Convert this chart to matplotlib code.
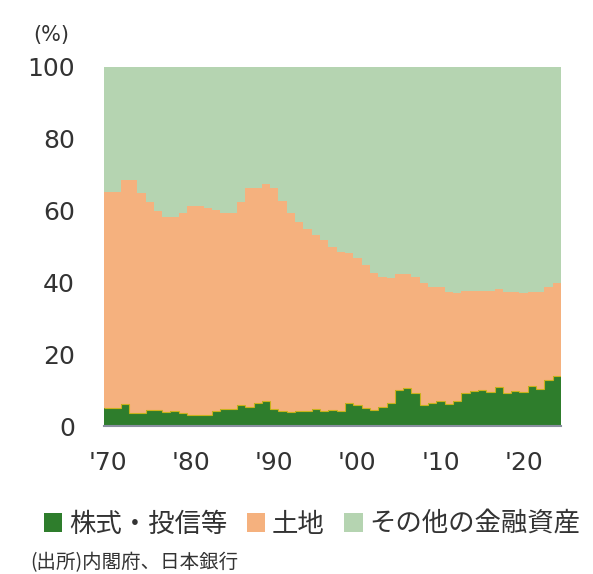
import numpy as np
import matplotlib
matplotlib.use("Agg")
import matplotlib.pyplot as plt
from matplotlib.patches import Patch

plt.rcParams['font.family'] = ['Noto Sans CJK JP', 'DejaVu Sans']

years = list(range(1970, 2025))

# 株式・投信等 (%)
stocks = [4.9, 4.9, 6.1, 3.7, 3.7, 4.5, 4.5, 4.0, 4.3, 3.7,
          3.2, 3.2, 3.2, 4.3, 4.7, 4.7, 5.8, 5.4, 6.5, 7.0,
          4.6, 4.3, 3.8, 4.2, 4.2, 4.6, 4.2, 4.4, 4.1, 6.3,
          5.8, 4.9, 4.5, 5.4, 6.4, 10.1, 10.6, 9.1, 5.8, 6.4,
          7.0, 6.1, 7.0, 9.1, 9.7, 10.0, 9.5, 10.9, 9.2, 9.7,
          9.4, 11.1, 10.3, 12.7, 13.9]

# 土地 (%)
land = [60.4, 60.4, 62.4, 64.8, 61.3, 58.0, 55.5, 54.3, 54.0, 55.7,
        58.2, 58.2, 57.4, 55.9, 54.5, 54.5, 56.7, 60.8, 59.7, 60.4,
        61.6, 58.5, 55.4, 52.7, 50.6, 48.6, 47.6, 45.5, 44.5, 41.8,
        40.9, 39.9, 38.0, 36.2, 34.7, 32.2, 31.7, 32.5, 33.9, 32.4,
        31.8, 31.3, 30.0, 28.5, 27.9, 27.6, 28.1, 27.4, 28.2, 27.7,
        27.6, 26.3, 27.1, 26.1, 26.0]

# その他の金融資産 (%)
other = [34.7, 34.7, 31.5, 31.5, 35.0, 37.5, 40.0, 41.7, 41.7, 40.6,
         38.6, 38.6, 39.4, 39.8, 40.8, 40.8, 37.5, 33.8, 33.8, 32.6,
         33.8, 37.2, 40.8, 43.1, 45.2, 46.8, 48.2, 50.1, 51.4, 51.9,
         53.3, 55.2, 57.5, 58.4, 58.9, 57.7, 57.7, 58.4, 60.3, 61.2,
         61.2, 62.6, 63.0, 62.4, 62.4, 62.4, 62.4, 61.7, 62.6, 62.6,
         63.0, 62.6, 62.6, 61.2, 60.1]

labels = ['株式・投信等', '土地', 'その他の金融資産']
colors = ['#2e7d2c', '#f5b17e', '#b5d4b1']
tick_years = [1970, 1980, 1990, 2000, 2010, 2020]
tick_labels = ["'70", "'80", "'90", "'00", "'10", "'20"]

text_color = '#333333'

fig = plt.figure(figsize=(5.93, 5.74), dpi=100)
ax = fig.add_axes([104 / 593, 1 - 426 / 574, 457 / 593, 359 / 574])

edges = np.arange(years[0] - 0.5, years[-1] + 1.5, 1)
s = np.array(stocks)
l = np.array(land)
o = np.array(other)

ax.stairs(s, edges, baseline=0, fill=True, color=colors[0], lw=0)
ax.stairs(s + l, edges, baseline=s, fill=True, color=colors[1], lw=0)
ax.stairs(s + l + o, edges, baseline=s + l, fill=True, color=colors[2], lw=0)
# thin yellowish outline on top of the stock area
ax.stairs(s, edges, baseline=None, fill=False, color='#c9b21c', lw=0.8)

ax.set_xlim(edges[0], edges[-1])
ax.set_ylim(0, 100)
ax.set_yticks([0, 20, 40, 60, 80, 100])
ax.set_xticks(tick_years)
ax.set_xticklabels(tick_labels)
ax.tick_params(axis='both', length=0, labelsize=18, colors=text_color)
ax.tick_params(axis='y', pad=21)
ax.tick_params(axis='x', pad=18)
for lab in ax.get_xticklabels() + ax.get_yticklabels():
    lab.set_family('DejaVu Sans')

for side in ['top', 'right', 'left']:
    ax.spines[side].set_visible(False)
ax.spines['bottom'].set_color('#8a8fa0')
ax.spines['bottom'].set_linewidth(1.5)

fig.text(33 / 593, 1 - 35 / 574, '(%)', fontsize=15, color=text_color,
         ha='left', va='center', family='DejaVu Sans')

handles = [Patch(facecolor=c, edgecolor='none') for c in colors]
fig.legend(handles, labels, loc='center left',
           bbox_to_anchor=(20 / 593, 1 - 524 / 574), ncol=3, frameon=False,
           fontsize=19, handlelength=0.7, handleheight=0.7,
           handletextpad=0.25, columnspacing=0.75, labelcolor=text_color)

fig.text(30 / 593, 1 / 574, '(出所)内閣府、日本銀行', fontsize=14,
         color=text_color, ha='left', va='bottom')

fig.savefig('out.png', dpi=100)
